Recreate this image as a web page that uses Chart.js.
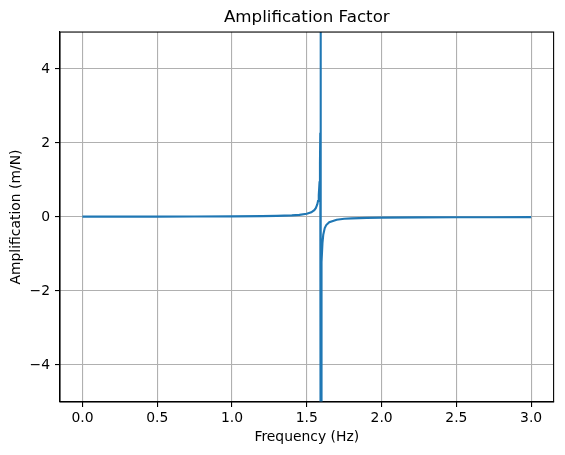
<!DOCTYPE html>
<html lang="en">
<head>
    <meta charset="UTF-8">
    <title>Amplification Factor</title>
    <script src="https://cdn.jsdelivr.net/npm/chart.js"></script>
    <style>
        html, body { margin: 0; padding: 0; background: #fff; }
        #wrap { width: 565px; height: 455px; }
    </style>
</head>
<body>
    <div id="wrap"><canvas id="ampChart" width="565" height="455"></canvas></div>

    <script>
        // values
        const freqHz = [0, 0.25, 0.5, 0.75, 1.0, 1.2, 1.3, 1.4, 1.45, 1.5, 1.53, 1.55, 1.56, 1.57, 1.575,
                        1.58, 1.585, 1.588, 1.590, 1.592, 1.5928, 1.5942, 1.595, 1.597, 1.6, 1.605, 1.61,
                        1.62, 1.63, 1.65, 1.7, 1.75, 1.8, 1.9, 2.0, 2.25, 2.5, 2.75, 3.0];
        const amplification = [0.010, 0.0103, 0.0111, 0.0129, 0.0165, 0.0232, 0.030, 0.0438, 0.0581, 0.0878,
                               0.128, 0.186, 0.240, 0.342, 0.433, 0.593, 0.94, 1.45, 2.28, 5.3, 11.4, -11.4,
                               -5.3, -2.27, -1.22, -0.69, -0.48, -0.298, -0.216, -0.139, -0.0724, -0.0485,
                               -0.0362, -0.0237, -0.0174, -0.010, -0.0068, -0.0050, -0.0039];
        const xTicks = [0, 0.5, 1.0, 1.5, 2.0, 2.5, 3.0];
        const yTicks = [-4, -2, 0, 2, 4];

        const font = 'DejaVu Sans';

        const frame = {
            id: 'frame',
            afterDatasetsDraw(chart) {
                const a = chart.chartArea;
                const c = chart.ctx;
                c.save();
                c.strokeStyle = '#000';
                c.lineWidth = 1.1;
                c.strokeRect(a.left, a.top, a.right - a.left, a.bottom - a.top);
                c.restore();
            }
        };

        const ctx = document.getElementById('ampChart').getContext('2d');
        new Chart(ctx, {
            type: 'line',
            data: {
                datasets: [{
                    data: freqHz.map((f, i) => ({ x: f, y: amplification[i] })),
                    borderColor: '#1f77b4',
                    borderWidth: 2.1,
                    pointRadius: 0,
                    tension: 0,
                    fill: false
                }]
            },
            options: {
                responsive: false,
                animation: false,
                events: [],
                layout: { padding: { left: 0, right: 11.4, top: 0, bottom: 0 } },
                plugins: {
                    legend: { display: false },
                    tooltip: { enabled: false },
                    title: {
                        display: true,
                        fullSize: false,
                        text: 'Amplification Factor',
                        color: '#000',
                        font: { family: font, size: 16.7, weight: 'normal' },
                        padding: { top: 8, bottom: 4 }
                    }
                },
                scales: {
                    x: {
                        type: 'linear',
                        min: -0.15,
                        max: 3.15,
                        afterBuildTicks: s => { s.ticks = xTicks.map(v => ({ value: v })); },
                        afterFit: s => { s.height = 53; },
                        ticks: {
                            color: '#000',
                            font: { family: font, size: 13.9 },
                            padding: 3,
                            maxRotation: 0,
                            autoSkip: false,
                            callback: v => v.toFixed(1)
                        },
                        grid: { color: '#b0b0b0', lineWidth: 1.1, tickColor: '#000', tickLength: 5 },
                        border: { display: true, color: '#000', width: 1.1 },
                        title: {
                            display: true,
                            text: 'Frequency (Hz)',
                            color: '#000',
                            font: { family: font, size: 13.9 },
                            padding: { top: 0, bottom: 9.7 }
                        }
                    },
                    y: {
                        type: 'linear',
                        min: -5,
                        max: 5,
                        afterBuildTicks: s => { s.ticks = yTicks.map(v => ({ value: v })); },
                        afterFit: s => { s.width = 60; },
                        ticks: {
                            color: '#000',
                            font: { family: font, size: 13.9 },
                            padding: 5,
                            autoSkip: false,
                            callback: v => (v < 0 ? '\u2212' + Math.abs(v) : String(v))
                        },
                        grid: { color: '#b0b0b0', lineWidth: 1.1, tickColor: '#000', tickLength: 5 },
                        border: { display: true, color: '#000', width: 1.1 },
                        title: {
                            display: true,
                            text: 'Amplification (m/N)',
                            color: '#000',
                            font: { family: font, size: 13.9 },
                            padding: { top: 8.5, bottom: 0 }
                        }
                    }
                }
            },
            plugins: [frame]
        });
    </script>
</body>
</html>
